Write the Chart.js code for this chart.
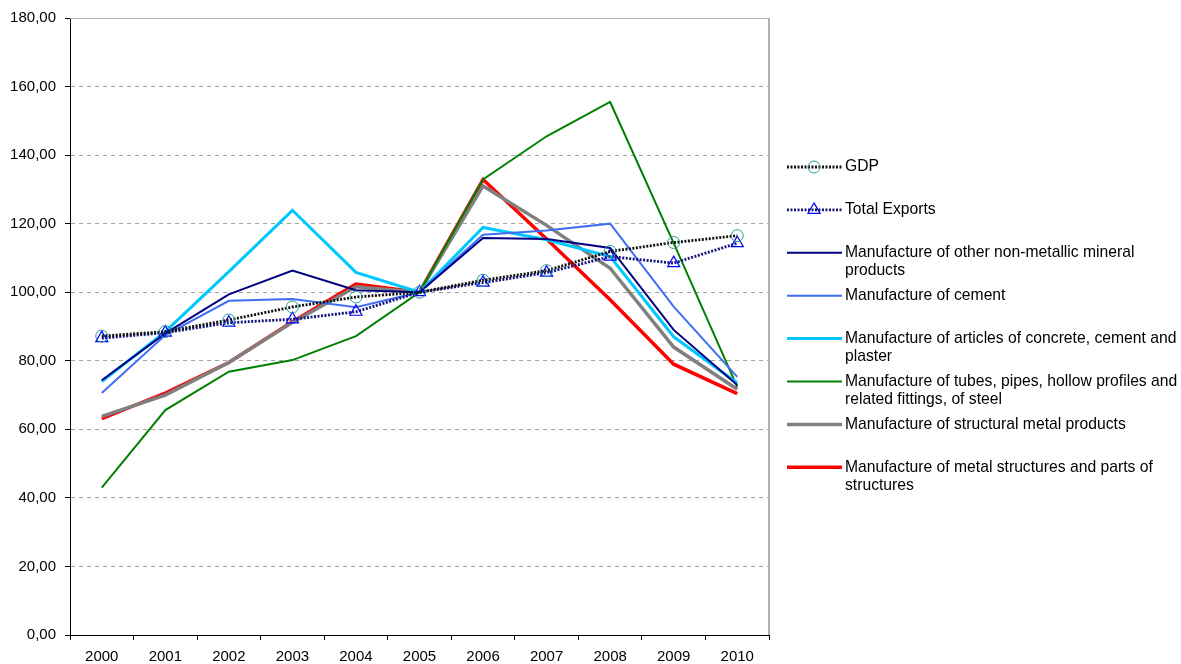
<!DOCTYPE html>
<html>
<head>
<meta charset="utf-8">
<script src="https://cdn.jsdelivr.net/npm/chart.js@4"></script>
<style>
  html, body { margin: 0; padding: 0; background: #fff; }
  #wrap { width: 1181px; height: 664px; position: relative; }
</style>
</head>
<body>
<div id="wrap"><canvas id="myChart" width="1181" height="664"></canvas></div>
<script>
const years = ['2000', '2001', '2002', '2003', '2004', '2005', '2006', '2007', '2008', '2009', '2010'];

const gdp = [87.2, 88.5, 91.9, 95.7, 98.6, 100, 103.5, 106.3, 111.9, 114.5, 116.5];
const totalExports = [86.6, 88.2, 91.1, 92.1, 94.3, 100, 102.8, 105.7, 110.4, 108.5, 114.3];
const nonMetallic = [74.3, 88, 99.4, 106.3, 100.6, 100, 115.8, 115.5, 112.9, 89, 72.9];
const cement = [70.6, 87.5, 97.5, 98, 95.6, 100, 116.8, 118, 120, 95.8, 75.3];
const concrete = [73.9, 88.5, 106, 123.9, 105.8, 100, 118.9, 115.3, 110.4, 87, 73.5];
const tubes = [43, 65.6, 76.8, 80.2, 87.2, 100, 132.9, 145.5, 155.5, 114.3, 72.4];
const structural = [63.8, 70, 79.5, 91.2, 101.6, 100, 131, 119.5, 107, 84, 71.7];
const metalStructures = [63.1, 70.6, 79.5, 91.4, 102.4, 100, 132.9, 115.5, 97.8, 79, 70.4];

// legend text, one entry per series, split into the lines it is printed on
const names = [
  ['GDP'],
  ['Total Exports'],
  ['Manufacture of other non-metallic mineral', 'products'],
  ['Manufacture of cement'],
  ['Manufacture of articles of concrete, cement and', 'plaster'],
  ['Manufacture of tubes, pipes, hollow profiles and', 'related fittings, of steel'],
  ['Manufacture of structural metal products'],
  ['Manufacture of metal structures and parts of', 'structures']
];

const FONT = '"Liberation Sans", Arial, sans-serif';

function line(i, data, color, width, extra) {
  return Object.assign({
    label: names[i].join(' '),
    data: data,
    borderColor: color,
    backgroundColor: color,
    borderWidth: width,
    pointRadius: 0,
    tension: 0,
    fill: false
  }, extra || {});
}

const datasets = [
  line(0, gdp, '#111111', 2.8, {
    borderDash: [2, 1.5],
    pointStyle: 'circle', pointRadius: 6,
    pointBorderColor: '#2a9a9a', pointBackgroundColor: 'rgba(0,0,0,0)', pointBorderWidth: 1
  }),
  line(1, totalExports, '#14147a', 2.8, {
    borderDash: [2, 1.5],
    pointStyle: 'triangle', pointRadius: 7,
    pointBorderColor: '#0000ff', pointBackgroundColor: 'rgba(0,0,0,0)', pointBorderWidth: 1.2
  }),
  line(2, nonMetallic, '#000080', 2),
  line(3, cement, '#3f6ef5', 2),
  line(4, concrete, '#00c8ff', 3),
  line(5, tubes, '#008000', 2),
  line(6, structural, '#808080', 3.5),
  line(7, metalStructures, '#ff0000', 3.5)
];

// legend drawn on the canvas so long names can wrap onto two lines
const sideLegend = {
  id: 'sideLegend',
  afterDraw(chart) {
    const ctx = chart.ctx;
    ctx.save();
    ctx.font = '15.7px ' + FONT;
    ctx.textBaseline = 'middle';
    ctx.fillStyle = '#000';
    chart.data.datasets.forEach((ds, i) => {
      const y = 167 + i * 42.9;
      ctx.save();
      ctx.strokeStyle = ds.borderColor;
      ctx.lineWidth = ds.borderWidth;
      ctx.setLineDash(ds.borderDash || []);
      ctx.beginPath();
      ctx.moveTo(787, y);
      ctx.lineTo(842, y);
      ctx.stroke();
      ctx.restore();
      if (ds.pointRadius > 0) {
        const r = ds.pointRadius;
        ctx.save();
        ctx.strokeStyle = ds.pointBorderColor;
        ctx.lineWidth = ds.pointBorderWidth;
        ctx.beginPath();
        if (ds.pointStyle === 'circle') {
          ctx.arc(814, y, r, 0, Math.PI * 2);
        } else {
          ctx.moveTo(814, y - r);
          ctx.lineTo(814 + r * 0.87, y + r * 0.5);
          ctx.lineTo(814 - r * 0.87, y + r * 0.5);
          ctx.closePath();
        }
        ctx.stroke();
        ctx.restore();
      }
      names[i].forEach((t, k) => ctx.fillText(t, 845, y + k * 18));
    });
    ctx.restore();
  }
};

// gray frame on the top and right of the plot area
const plotFrame = {
  id: 'plotFrame',
  beforeDatasetsDraw(chart) {
    const a = chart.chartArea;
    const ctx = chart.ctx;
    ctx.save();
    ctx.strokeStyle = '#b0b0b0';
    ctx.lineWidth = 1;
    ctx.beginPath();
    ctx.moveTo(a.left, a.top + 0.5);
    ctx.lineTo(a.right, a.top + 0.5);
    ctx.stroke();
    ctx.lineWidth = 2;
    ctx.beginPath();
    ctx.moveTo(a.right, a.top);
    ctx.lineTo(a.right, a.bottom);
    ctx.stroke();
    ctx.restore();
  }
};

const ctx = document.getElementById('myChart');

new Chart(ctx, {
  type: 'line',
  data: { labels: years, datasets: datasets },
  options: {
    responsive: false,
    animation: false,
    layout: { padding: { top: 14, right: 412, left: 0, bottom: 0 } },
    plugins: {
      legend: { display: false },
      tooltip: { enabled: false }
    },
    scales: {
      x: {
        offset: true,
        afterFit: s => { s.height = 29; },
        grid: { drawOnChartArea: false, tickLength: 5, color: '#000', offset: true },
        border: { color: '#000', width: 1 },
        ticks: { color: '#000', font: { family: FONT, size: 15 }, padding: 8 }
      },
      y: {
        min: 0,
        max: 180,
        afterFit: s => { s.width = 70; },
        grid: { color: '#a0a0a0', tickLength: 5, tickColor: '#000' },
        border: { color: '#000', width: 1, dash: [4, 4] },
        ticks: {
          stepSize: 20,
          color: '#000',
          padding: 9,
          font: { family: FONT, size: 15 },
          callback: v => v.toFixed(2).replace('.', ',')
        }
      }
    }
  },
  plugins: [plotFrame, sideLegend]
});
</script>
</body>
</html>
